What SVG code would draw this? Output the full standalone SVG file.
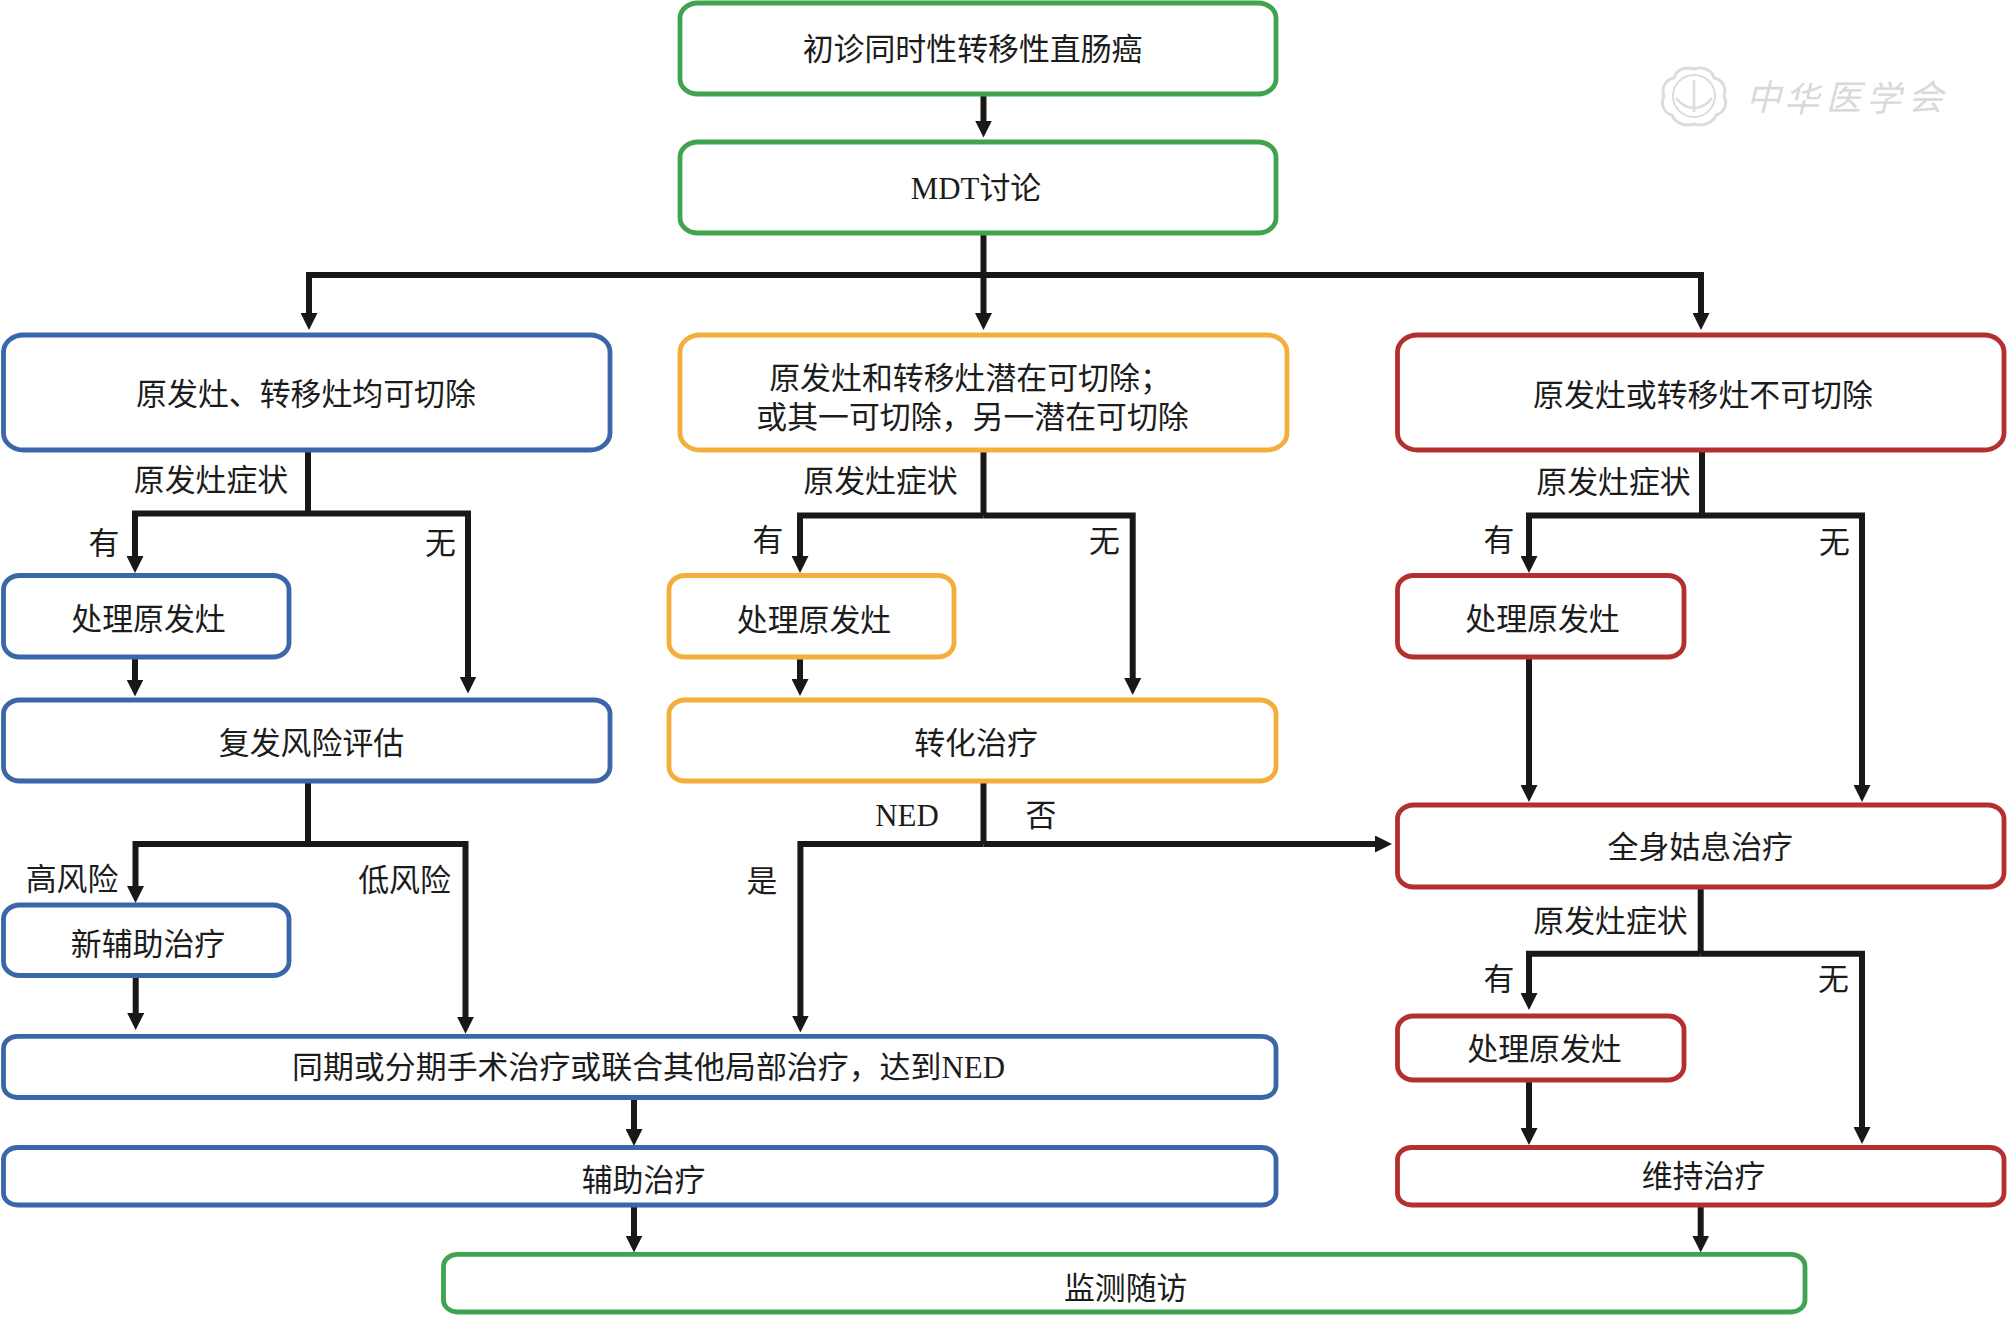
<svg xmlns="http://www.w3.org/2000/svg" width="2008" height="1320" viewBox="0 0 2008 1320" lang="zh-CN">
<style>
text{font-family:"Liberation Serif","Noto Sans CJK SC",serif;font-size:30.9px;fill:#1c1c1c;text-anchor:middle;font-weight:400}
.n{fill:#fff;stroke-width:4.8}
.g{stroke:#3fa34f}.b{stroke:#3b67a9}.o{stroke:#f3ae3c}.r{stroke:#b3302f}
.c{fill:none;stroke:#1a1817;stroke-width:6;stroke-linejoin:miter}
.a{marker-end:url(#arrow)}
.wm{font-size:35px;fill:#d9d9d9;font-style:italic;text-anchor:start}
.seal{fill:none;stroke:#dcdcdc}
</style>
<defs>
<marker id="arrow" markerUnits="userSpaceOnUse" markerWidth="17" markerHeight="17" viewBox="0 0 17 17" refX="9" refY="8.5" orient="auto"><polygon points="0,0 17,8.5 0,17" fill="#1a1817"/></marker>
</defs>
<rect width="2008" height="1320" fill="#fff"/>

<g id="watermark">
<g class="seal">
<path stroke-width="3" d="M1694 69c9-3 18 1 20 9 8 1 13 10 10 18 4 8 0 17-8 19-3 8-13 12-22 9-9 3-19-1-22-9-8-2-12-11-8-19-3-8 2-17 10-18 2-8 11-12 20-9z"/>
<circle cx="1694" cy="96" r="21" stroke-width="2"/>
<path stroke-width="2.5" d="M1694 80v32M1676 98c6 8 12 10 18 10s12-2 18-10"/>
</g>
<text class="wm" x="1746" y="110">中</text>
<text class="wm" x="1784" y="112">华</text>
<text class="wm" x="1826" y="110">医</text>
<text class="wm" x="1866" y="111">学</text>
<text class="wm" x="1908" y="110">会</text>
</g>

<g id="connectors">
<path class="c a" d="M983.5 95V129.5"/>
<path class="c" d="M983.5 234V275"/>
<path class="c a" d="M983.5 275H309V322"/>
<path class="c a" d="M983.5 275H1701V322"/>
<path class="c a" d="M983.5 275V322"/>

<path class="c" d="M308 451V513.5"/>
<path class="c a" d="M308 513.5H135V565"/>
<path class="c a" d="M308 513.5H468V685.5"/>
<path class="c a" d="M135 658V688.5"/>

<path class="c" d="M983.5 451V515.5"/>
<path class="c a" d="M983.5 515.5H800V565"/>
<path class="c a" d="M983.5 515.5H1132.7V687"/>
<path class="c a" d="M800 658V688"/>

<path class="c" d="M1702 451V515.5"/>
<path class="c a" d="M1702 515.5H1529V565"/>
<path class="c a" d="M1702 515.5H1862V794"/>
<path class="c a" d="M1529 658V794"/>

<path class="c" d="M308 782V844"/>
<path class="c a" d="M308 844H135.5V895"/>
<path class="c a" d="M308 844H465.5V1025.7"/>
<path class="c a" d="M135.7 976.5V1022"/>

<path class="c" d="M983.5 782V844"/>
<path class="c a" d="M983.5 844H800.4V1024.5"/>
<path class="c a" d="M983.5 844H1384"/>

<path class="c" d="M1700.7 888V953.8"/>
<path class="c a" d="M1700.7 953.8H1529V1002"/>
<path class="c a" d="M1700.7 953.8H1862V1136"/>
<path class="c a" d="M1529 1081V1137"/>

<path class="c a" d="M634 1098V1138"/>
<path class="c a" d="M634 1206V1244.6"/>
<path class="c a" d="M1700.7 1206V1244.6"/>
</g>

<g id="n1"><rect class="n g" x="680" y="3" width="596" height="91" rx="18" ry="15"/><text x="972.6" y="60">初诊同时性转移性直肠癌</text></g>
<g id="n2"><rect class="n g" x="680" y="142" width="596" height="91" rx="18" ry="15"/><text x="976" y="199">MDT讨论</text></g>
<g id="n3"><rect class="n b" x="3.5" y="335" width="606.5" height="115" rx="20" ry="17"/><text x="306" y="404.5">原发灶、转移灶均可切除</text></g>
<g id="n4"><rect class="n o" x="680" y="335" width="607" height="115" rx="20" ry="17"/><text x="970" y="388.5">原发灶和转移灶潜在可切除；</text><text x="972.5" y="427.7">或其一可切除，另一潜在可切除</text></g>
<g id="n5"><rect class="n r" x="1397.5" y="335" width="606.5" height="115" rx="20" ry="17"/><text x="1703" y="406">原发灶或转移灶不可切除</text></g>
<g id="n6"><rect class="n b" x="3.5" y="575.5" width="285.5" height="81.5" rx="16" ry="14"/><text x="148.5" y="629.7">处理原发灶</text></g>
<g id="n7"><rect class="n o" x="669" y="575.5" width="285" height="81.5" rx="16" ry="14"/><text x="814" y="630.5">处理原发灶</text></g>
<g id="n8"><rect class="n r" x="1397.5" y="575.5" width="286.5" height="81.5" rx="16" ry="14"/><text x="1542.5" y="629.7">处理原发灶</text></g>
<g id="n9"><rect class="n b" x="3.5" y="700" width="606.5" height="81" rx="16" ry="14"/><text x="311.5" y="754">复发风险评估</text></g>
<g id="n10"><rect class="n o" x="669" y="700" width="607" height="81" rx="16" ry="14"/><text x="976" y="754">转化治疗</text></g>
<g id="n11"><rect class="n r" x="1397.5" y="805" width="606.5" height="82" rx="16" ry="14"/><text x="1700.3" y="857.5">全身姑息治疗</text></g>
<g id="n12"><rect class="n b" x="3.5" y="905" width="285.5" height="70.5" rx="16" ry="14"/><text x="148" y="955">新辅助治疗</text></g>
<g id="n13"><rect class="n r" x="1397.5" y="1016" width="286.5" height="64" rx="16" ry="14"/><text x="1544.5" y="1059.5">处理原发灶</text></g>
<g id="n14"><rect class="n b" x="3.5" y="1036.4" width="1272.5" height="61.1" rx="14" ry="12"/><text x="648.5" y="1078.4" textLength="713">同期或分期手术治疗或联合其他局部治疗，达到NED</text></g>
<g id="n15"><rect class="n b" x="3.5" y="1147.5" width="1272.5" height="57.5" rx="14" ry="12"/><text x="643.5" y="1191">辅助治疗</text></g>
<g id="n16"><rect class="n r" x="1397.5" y="1147.5" width="606.5" height="57.5" rx="14" ry="12"/><text x="1703.5" y="1187.4">维持治疗</text></g>
<g id="n17"><rect class="n g" x="443.5" y="1254.4" width="1361.5" height="57.6" rx="14" ry="12"/><text x="1125.7" y="1299">监测随访</text></g>

<g id="labels">
<text x="211" y="491">原发灶症状</text>
<text x="880.5" y="491.6">原发灶症状</text>
<text x="1613.5" y="493">原发灶症状</text>
<text x="1610.5" y="931.5">原发灶症状</text>
<text x="104" y="554">有</text>
<text x="440.5" y="554">无</text>
<text x="768" y="550.5">有</text>
<text x="1104.5" y="552">无</text>
<text x="1499" y="551">有</text>
<text x="1834.5" y="553">无</text>
<text x="1499" y="989.6">有</text>
<text x="1833.5" y="990">无</text>
<text x="72" y="890">高风险</text>
<text x="404.5" y="891">低风险</text>
<text x="907" y="825.5">NED</text>
<text x="1041" y="825.5">否</text>
<text x="762" y="892">是</text>
</g>
</svg>
